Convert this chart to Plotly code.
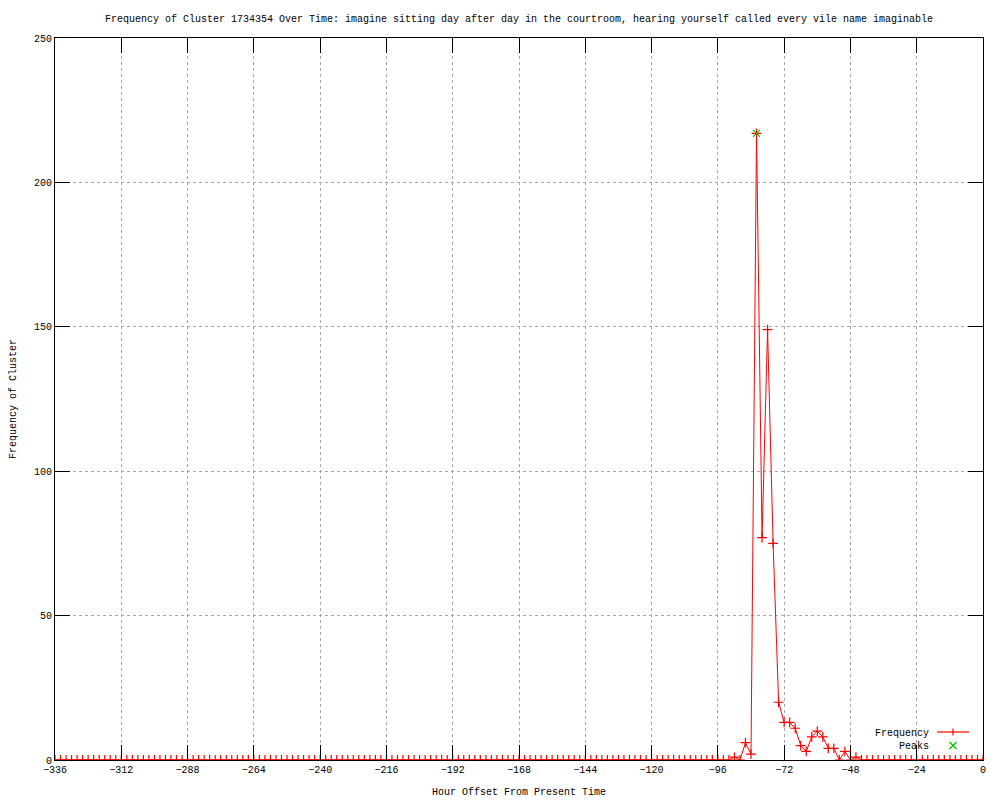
import plotly.graph_objects as go

# Hour offsets (every 2 hours from -336 to 0)
hours = list(range(-336, 1, 2))

# Frequency values
frequency = [
    0, 0, 0, 0, 0, 0, 0, 0, 0, 0, 0, 0,   # -336 .. -314
    0, 0, 0, 0, 0, 0, 0, 0, 0, 0, 0, 0,   # -312 .. -290
    0, 0, 0, 0, 0, 0, 0, 0, 0, 0, 0, 0,   # -288 .. -266
    0, 0, 0, 0, 0, 0, 0, 0, 0, 0, 0, 0,   # -264 .. -242
    0, 0, 0, 0, 0, 0, 0, 0, 0, 0, 0, 0,   # -240 .. -218
    0, 0, 0, 0, 0, 0, 0, 0, 0, 0, 0, 0,   # -216 .. -194
    0, 0, 0, 0, 0, 0, 0, 0, 0, 0, 0, 0,   # -192 .. -170
    0, 0, 0, 0, 0, 0, 0, 0, 0, 0, 0, 0,   # -168 .. -146
    0, 0, 0, 0, 0, 0, 0, 0, 0, 0, 0, 0,   # -144 .. -122
    0, 0, 0, 0, 0, 0, 0, 0, 0, 0, 0, 0,   # -120 .. -98
    0, 0,                                 # -96, -94
    0, 1, 0, 6, 2, 217, 77, 149, 75, 20, 13, 13,   # -92 .. -70
    11, 5, 3, 8, 10, 8, 4, 4, 0, 3, 0, 1,          # -68 .. -46
    0, 0, 0, 0, 0, 0, 0, 0, 0, 0, 0, 0,   # -44 .. -22
    0, 0, 0, 0, 0, 0, 0, 0, 0, 0, 0,      # -20 .. 0
]

peak_hours = [-82]
peak_values = [217]

x_ticks = list(range(-336, 1, 24))
y_ticks = [0, 50, 100, 150, 200, 250]

title_text = ("Frequency of Cluster 1734354 Over Time: imagine sitting day after day "
              "in the courtroom, hearing yourself called every vile name imaginable")

FONT = "Liberation Mono, DejaVu Sans Mono, monospace"
FS = 10

fig = go.Figure()
fig.add_trace(go.Scatter(
    x=hours, y=frequency, mode="lines+markers", name="Frequency",
    line=dict(color="#ff0000", width=1),
    marker=dict(symbol="cross-thin-open", size=7, color="#ff0000",
                line=dict(color="#ff0000", width=1.2)),
    showlegend=False,
))
fig.add_trace(go.Scatter(
    x=peak_hours, y=peak_values, mode="markers", name="Peaks",
    marker=dict(symbol="x-thin-open", size=7, color="#00c000",
                line=dict(color="#00c000", width=1.2)),
    showlegend=False,
))

# Legend drawn gnuplot-style (text left, sample right); page coords -> paper
def px(xp):
    return (xp - 55) / 928.0

def py(yp):
    return (760 - yp) / 722.0

annotations = [
    dict(text="Frequency", x=px(931), y=py(733), xref="paper", yref="paper",
         xanchor="right", yanchor="middle", showarrow=False,
         font=dict(family=FONT, size=FS, color="black")),
    dict(text="Peaks", x=px(931), y=py(746), xref="paper", yref="paper",
         xanchor="right", yanchor="middle", showarrow=False,
         font=dict(family=FONT, size=FS, color="black")),
]
shapes = [
    dict(type="line", xref="paper", yref="paper", x0=px(937), x1=px(969),
         y0=py(732), y1=py(732), line=dict(color="#ff0000", width=1.2)),
    dict(type="line", xref="paper", yref="paper", x0=px(953), x1=px(953),
         y0=py(728.5), y1=py(735.5), line=dict(color="#ff0000", width=1.2)),
    dict(type="line", xref="paper", yref="paper", x0=px(949.5), x1=px(956.5),
         y0=py(742), y1=py(749), line=dict(color="#00c000", width=1.2)),
    dict(type="line", xref="paper", yref="paper", x0=px(949.5), x1=px(956.5),
         y0=py(749), y1=py(742), line=dict(color="#00c000", width=1.2)),
]

# The page body has an 8px margin, so the figure is sized 992x792
fig.update_layout(
    width=992, height=792,
    paper_bgcolor="white", plot_bgcolor="white",
    margin=dict(l=47, r=17, t=30, b=40, autoexpand=False),
    font=dict(family=FONT, size=FS, color="black"),
    title=dict(text=title_text, x=0.5, xref="paper", y=1 - 10 / 792.0,
               yanchor="middle", xanchor="center",
               font=dict(family=FONT, size=FS, color="black")),
    annotations=annotations,
    shapes=shapes,
    showlegend=False,
)

fig.update_xaxes(
    range=[-336, 0], tickmode="array", tickvals=x_ticks,
    ticktext=[("\u2212" + str(-v)) if v < 0 else str(v) for v in x_ticks],
    ticks="inside", ticklen=15, tickcolor="black", tickwidth=1,
    showline=True, linecolor="black", linewidth=1, mirror="ticks",
    showgrid=True, gridcolor="#a8a8a8", griddash="dot", gridwidth=1,
    zeroline=False,
    title=dict(text="Hour Offset From Present Time", standoff=12,
               font=dict(family=FONT, size=FS)),
    tickfont=dict(family=FONT, size=FS),
)
fig.update_yaxes(
    range=[0, 250], tickmode="array", tickvals=y_ticks,
    ticks="inside", ticklen=15, tickcolor="black", tickwidth=1,
    showline=True, linecolor="black", linewidth=1, mirror="ticks",
    showgrid=True, gridcolor="#a8a8a8", griddash="dot", gridwidth=1,
    zeroline=False,
    title=dict(text="Frequency of Cluster", standoff=15,
               font=dict(family=FONT, size=FS)),
    tickfont=dict(family=FONT, size=FS),
)

fig.write_html("out.html")
